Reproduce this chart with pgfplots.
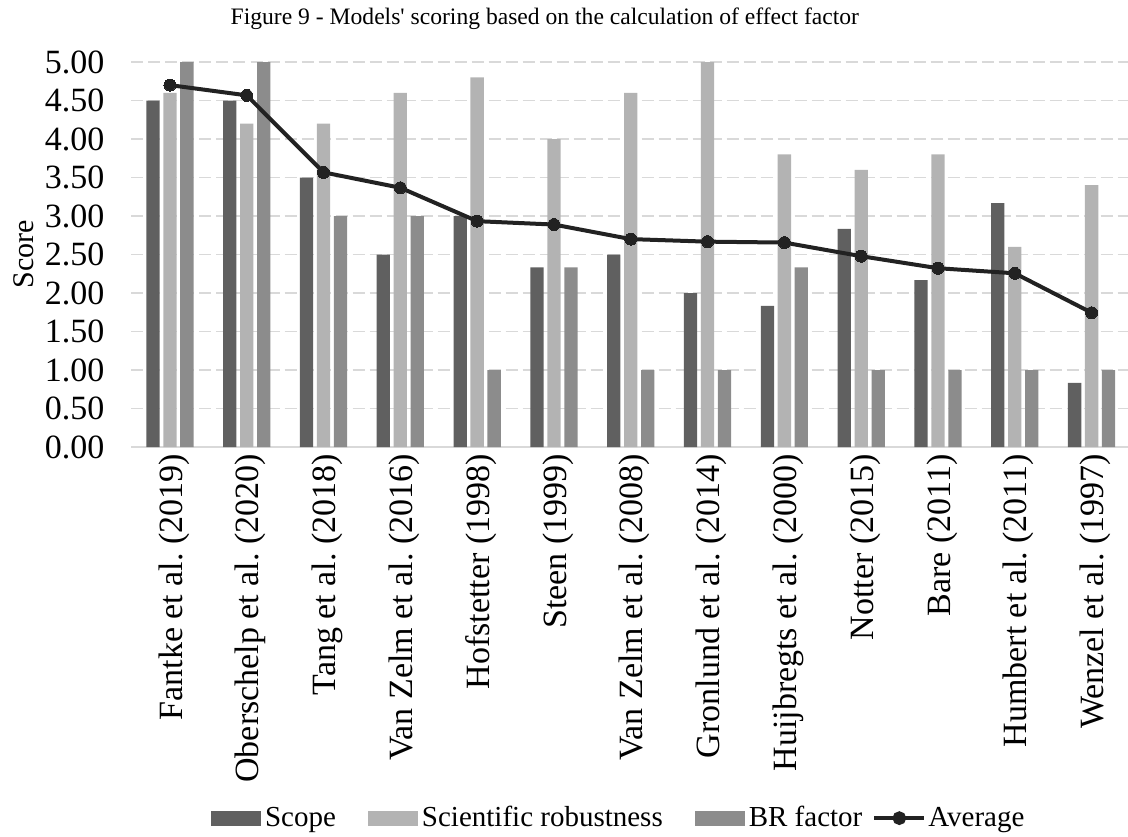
\documentclass[border=0pt]{standalone}
\usepackage{fontspec}
\setmainfont{Liberation Serif}
\usepackage{pgfplots}
\usepackage{pgfplotstable}
\pgfplotsset{compat=1.18}
\frenchspacing
\definecolor{scopec}{RGB}{96,96,96}
\definecolor{scic}{RGB}{179,179,179}
\definecolor{brc}{RGB}{140,140,140}
\definecolor{avgc}{RGB}{34,34,34}
\definecolor{gridc}{RGB}{217,217,217}

\pgfplotstableread{
x scope sci br avg
0  4.500 4.60 5.000 4.700
1  4.500 4.20 5.000 4.567
2  3.500 4.20 3.000 3.567
3  2.500 4.60 3.000 3.367
4  3.000 4.80 1.000 2.933
5  2.333 4.00 2.333 2.889
6  2.500 4.60 1.000 2.700
7  2.000 5.00 1.000 2.667
8  1.833 3.80 2.333 2.655
9  2.833 3.60 1.000 2.478
10 2.167 3.80 1.000 2.322
11 3.167 2.60 1.000 2.256
12 0.833 3.40 1.000 1.744
}\datatable

\begin{document}
\frenchspacing
\begin{tikzpicture}
\begin{axis}[
  width=499.25pt, height=192.5pt, scale only axis,
  xmin=-0.5, xmax=12.5, ymin=0, ymax=5,
  xtick={0,...,12},
  xticklabels={Fantke et al. (2019),Oberschelp et al. (2020),Tang et al. (2018),Van Zelm et al. (2016),Hofstetter (1998),Steen (1999),Van Zelm et al. (2008),Gronlund et al. (2014),Huijbregts et al. (2000),Notter (2015),Bare (2011),Humbert et al. (2011),Wenzel et al. (1997)},
  xticklabel style={rotate=90, anchor=east, font=\fontsize{17}{20}\selectfont, yshift=-2pt},
  ytick={0,0.5,1,1.5,2,2.5,3,3.5,4,4.5,5},
  /pgf/number format/fixed, /pgf/number format/fixed zerofill, /pgf/number format/precision=2,
  /pgf/number format/assume math mode=true,
  yticklabel style={font=\fontsize{17}{20}\selectfont, xshift=-10pt},
  ylabel={Score},
  ylabel style={at={(axis description cs:-0.108,0.5)}, anchor=center, font=\fontsize{15}{18}\selectfont},
  title={Figure 9 - Models\textquotesingle{} scoring based on the calculation of effect factor},
  title style={at={(axis description cs:0.414,1.114)}, anchor=center, yshift=-6.5pt, font=\fontsize{11.8}{14}\selectfont},
  ymajorgrids,
  grid style={gridc, dash pattern=on 6pt off 2.5pt, line width=0.75pt},
  major tick length=0pt,
  axis x line*=bottom, axis y line*=left,
  y axis line style={draw=none},
  x axis line style={gridc, line width=1pt, -},
  legend columns=4,
  legend style={at={(axis description cs:0.489,-0.964)}, anchor=center, draw=none,
    font=\fontsize{14.5}{17}\selectfont,
    /tikz/every even column/.append style={column sep=14pt}},
]
\addplot[ybar, bar width=0.173, bar shift=-0.221, fill=scopec, draw=none,
  legend image code/.code={\fill[scopec] (0pt,-3.75pt) rectangle (25pt,3.75pt);}]
  table[x=x,y=scope]{\datatable};
\addlegendentry{Scope}
\addplot[ybar, bar width=0.173, bar shift=0, fill=scic, draw=none,
  legend image code/.code={\fill[scic] (0pt,-3.75pt) rectangle (25pt,3.75pt);}]
  table[x=x,y=sci]{\datatable};
\addlegendentry{Scientific robustness}
\addplot[ybar, bar width=0.173, bar shift=0.221, fill=brc, draw=none,
  legend image code/.code={\fill[brc] (0pt,-3.75pt) rectangle (25pt,3.75pt);}]
  table[x=x,y=br]{\datatable};
\addlegendentry{BR factor}
\addplot[sharp plot, avgc, line width=2pt, mark=*, mark size=3pt, mark options={fill=avgc, draw=avgc, line width=0pt},
  legend image code/.code={\path[draw=none, fill=none] (0pt,-3.75pt) rectangle (15pt,3.75pt); \draw[overlay, avgc, line width=2pt] (-10pt,0pt) -- (15pt,0pt); \fill[overlay, avgc] (2.5pt,0pt) circle (2.4pt);}]
  table[x=x,y=avg]{\datatable};
\addlegendentry{Average}
\coordinate (bl) at (rel axis cs:0,0);
\end{axis}
\pgfresetboundingbox
\path (bl) ++(-65.75pt,-194.5pt) rectangle ++(564pt,418pt);
\end{tikzpicture}
\end{document}
